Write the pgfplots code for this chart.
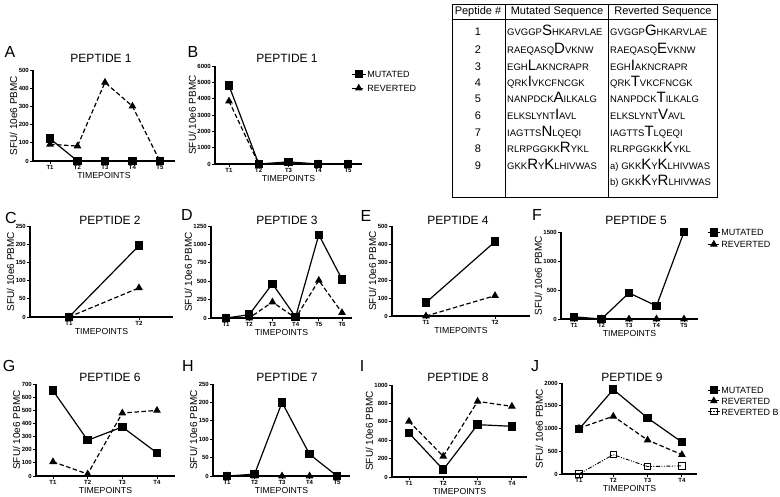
\documentclass[border=0pt]{standalone}
\usepackage{fontspec}
\setmainfont{Liberation Sans}
\usepackage{pgfplots}
\pgfplotsset{compat=1.18}

% table fonts: small letters with one or two big residues
\newcommand{\seqsm}{\fontsize{9.5}{10}\selectfont}
\newcommand{\seqlg}{\fontsize{15}{15}\selectfont}
\newcommand{\seq}[3]{{\seqsm #1}{\seqlg #2}{\seqsm #3}}

\pgfplotsset{
  panel/.style={
    scale only axis, clip=false, anchor=south west,
    axis x line*=bottom, axis y line*=left,
    axis line style={line width=1.2pt,-},
    tick style={black, line width=0.9pt},
    major tick length=3pt, tick align=outside,
    ymin=0,
    xlabel={TIMEPOINTS}, ylabel={SFU/ 10e6 PBMC},
    xlabel style={font=\fontsize{8.7}{9}\selectfont, text depth=0pt, yshift=1.5pt},
    ylabel style={font=\fontsize{10}{11}\selectfont, yshift=-3pt},
    ticklabel style={font=\fontsize{6}{6}\selectfont\bfseries, inner sep=1pt},
    /pgf/number format/assume math mode=true,
    /pgf/number format/1000 sep={},
    legend cell align=left,
    legend style={draw=none, fill=none, inner sep=0pt, font=\fontsize{9}{9}\selectfont,
      nodes={inner sep=1pt, text height=7pt, text depth=0pt}, anchor=north west},
    legend image code/.code={\draw[mark repeat=2,mark phase=2,##1] plot coordinates {(0pt,0pt)(7pt,0pt)(14pt,0pt)};},
  },
  mut/.style={black, line width=1.2pt, mark=square*, mark size=3.6pt, mark options={solid}},
  rev/.style={black, line width=1.2pt, dash pattern=on 4.5pt off 2.5pt, mark=triangle*, mark size=3.3pt, mark options={solid}},
  revb/.style={black, line width=0.9pt, dash pattern=on 4pt off 1.5pt on 1pt off 1.5pt on 1pt off 1.5pt, mark=square, mark size=3.2pt, mark options={solid, fill=white}},
}

\begin{document}
\begin{tikzpicture}
\path[use as bounding box] (0pt,0pt) rectangle (780pt,-496pt);

% ---- A
\begin{axis}[panel, at={(33pt,-161pt)}, width=142pt, height=91pt,
  xmin=0.38, xmax=5.55, ymax=500, ytick={0,100,...,500},
  xtick={1,...,5}, xticklabels={T1,T2,T3,T4,T5}]
\addplot[mut] coordinates {(1,123)(2,0)(3,0)(4,0)(5,0)};
\addplot[rev] coordinates {(1,92)(2,82)(3,432)(4,301)(5,0)};
\end{axis}

% ---- B
\begin{axis}[panel, at={(215pt,-164pt)}, width=147pt, height=98pt,
  xmin=0.53, xmax=5.47, ymax=6000, ytick={0,1000,...,6000},
  xtick={1,...,5}, xticklabels={T1,T2,T3,T4,T5},
  legend style={at={(0.925,0.964)}, row sep=5pt}]
\addplot[mut] coordinates {(1,4800)(2,0)(3,130)(4,0)(5,0)};
\addplot[rev] coordinates {(1,3850)(2,0)(3,60)(4,0)(5,0)};
\legend{MUTATED,REVERTED}
\end{axis}

% ---- C
\begin{axis}[panel, at={(30pt,-317pt)}, width=143pt, height=91pt,
  xmin=0.443, xmax=2.486, ymax=250, ytick={0,50,...,250},
  xtick={1,2}, xticklabels={T1,T2}]
\addplot[mut] coordinates {(1,0)(2,196)};
\addplot[rev] coordinates {(1,0)(2,80)};
\end{axis}

% ---- D
\begin{axis}[panel, at={(211pt,-318pt)}, width=141pt, height=92pt,
  xmin=0.353, xmax=6.43, ymax=1250, ytick={0,250,...,1250},
  xtick={1,...,6}, xticklabels={T1,T2,T3,T4,T5,T6}]
\addplot[mut] coordinates {(1,0)(2,45)(3,466)(4,14)(5,1131)(6,525)};
\addplot[rev] coordinates {(1,0)(2,0)(3,217)(4,0)(5,511)(6,72)};
\end{axis}

% ---- E
\begin{axis}[panel, at={(392pt,-316pt)}, width=138pt, height=90pt,
  xmin=0.507, xmax=2.507, ymax=500, ytick={0,100,...,500},
  xtick={1,2}, xticklabels={T1,T2}]
\addplot[mut] coordinates {(1,75)(2,413)};
\addplot[rev] coordinates {(1,0)(2,113)};
\end{axis}

% ---- F
\begin{axis}[panel, at={(561pt,-319pt)}, width=137pt, height=87pt,
  xmin=0.527, xmax=5.51, ymax=1500, ytick={0,500,1000,1500},
  xtick={1,...,5}, xticklabels={T1,T2,T3,T4,T5},
  legend image code/.code={\draw[mark repeat=2,mark phase=2,#1] plot coordinates {(0pt,0pt)(6pt,0pt)(12pt,0pt)};},
  legend style={at={(1.066,1.05)}, row sep=3pt}]
\addplot[mut] coordinates {(1,38)(2,0)(3,450)(4,225)(5,1500)};
\addplot[rev] coordinates {(1,0)(2,0)(3,0)(4,0)(5,0)};
\legend{MUTATED,REVERTED}
\end{axis}

% ---- G
\begin{axis}[panel, at={(36pt,-476pt)}, width=139pt, height=92pt,
  xmin=0.51, xmax=4.52, ymax=700, ytick={0,100,...,700},
  xtick={1,...,4}, xticklabels={T1,T2,T3,T4}]
\addplot[mut] coordinates {(1,650)(2,272)(3,373)(4,176)};
\addplot[rev] coordinates {(1,108)(2,15)(3,479)(4,499)};
\end{axis}

% ---- H
\begin{axis}[panel, at={(213pt,-476pt)}, width=137pt, height=92pt,
  xmin=0.49, xmax=5.47, ymax=250, ytick={0,50,...,250},
  xtick={1,...,5}, xticklabels={T1,T2,T3,T4,T5}]
\addplot[mut] coordinates {(1,0)(2,5)(3,200)(4,59)(5,0)};
\addplot[rev] coordinates {(1,0)(2,0)(3,0)(4,0)(5,0)};
\end{axis}

% ---- I
\begin{axis}[panel, at={(392pt,-477pt)}, width=135pt, height=92pt,
  xmin=0.505, xmax=4.44, ymax=1000, ytick={0,200,...,1000},
  xtick={1,...,4}, xticklabels={T1,T2,T3,T4}]
\addplot[mut] coordinates {(1,478)(2,80)(3,569)(4,551)};
\addplot[rev] coordinates {(1,605)(2,225)(3,822)(4,768)};
\end{axis}

% ---- J
\begin{axis}[panel, at={(562pt,-474pt)}, width=135pt, height=91pt,
  xmin=0.505, xmax=4.44, ymax=2000, ytick={0,500,...,2000},
  xtick={1,...,4}, xticklabels={T1,T2,T3,T4},
  legend image code/.code={\draw[mark repeat=2,mark phase=2,#1] plot coordinates {(0pt,0pt)(6pt,0pt)(12pt,0pt)};},
  legend style={at={(1.074,0.973)}, row sep=1.7pt}]
\addplot[mut] coordinates {(1,985)(2,1858)(3,1231)(4,701)};
\addplot[rev] coordinates {(1,1007)(2,1269)(3,746)(4,425)};
\addplot[revb] coordinates {(1,0)(2,425)(3,164)(4,179)};
\legend{MUTATED,REVERTED,REVERTED B}
\end{axis}

% ---- titles and panel letters
\begin{scope}[every node/.style={font=\fontsize{12}{12}\selectfont}]
\node at (101pt,-58pt) {PEPTIDE 1};
\node at (287pt,-58pt) {PEPTIDE 1};
\node at (110pt,-220pt) {PEPTIDE 2};
\node at (287pt,-220pt) {PEPTIDE 3};
\node at (458pt,-220pt) {PEPTIDE 4};
\node at (636pt,-220pt) {PEPTIDE 5};
\node at (110pt,-377pt) {PEPTIDE 6};
\node at (287pt,-377pt) {PEPTIDE 7};
\node at (458pt,-377pt) {PEPTIDE 8};
\node at (632pt,-377pt) {PEPTIDE 9};
\end{scope}
\begin{scope}[every node/.style={font=\fontsize{16}{16}\selectfont}]
\node at (10pt,-52pt) {A};
\node at (193pt,-52pt) {B};
\node at (11pt,-218pt) {C};
\node at (187pt,-215pt) {D};
\node at (366pt,-216pt) {E};
\node at (537pt,-215pt) {F};
\node at (9pt,-366pt) {G};
\node at (188pt,-366pt) {H};
\node at (362pt,-366pt) {I};
\node at (535pt,-366pt) {J};
\end{scope}

% ---- peptide table
\draw[line width=0.8pt] (452pt,-4pt) rectangle (717pt,-197pt);
\draw[line width=0.8pt] (452pt,-19pt) -- (717pt,-19pt);
\draw[line width=0.8pt] (505pt,-4pt) -- (505pt,-197pt);
\draw[line width=0.8pt] (608pt,-4pt) -- (608pt,-197pt);
\begin{scope}[every node/.style={font=\fontsize{11}{11}\selectfont, inner sep=0pt}]
\node at (478pt,-12pt) {Peptide \#};
\node at (557pt,-12pt) {Mutated Sequence};
\node at (663pt,-12pt) {Reverted Sequence};
\foreach \n/\y in {1/32,2/50,3/67,4/83,5/99,6/116,7/133,8/149,9/166}
  \node at (478pt,-\y pt) {\n};
\end{scope}
\begin{scope}[every node/.style={anchor=base west, inner sep=0pt}]
\node at (507pt,-35.5pt) {\seq{GVGGP}{S}{HKARVLAE}};
\node at (507pt,-53.5pt) {\seq{RAEQASQ}{D}{VKNW}};
\node at (507pt,-70.5pt) {\seq{EGH}{L}{AKNCRAPR}};
\node at (507pt,-86.5pt) {\seq{QRK}{I}{VKCFNCGK}};
\node at (507pt,-102.5pt) {\seq{NANPDCK}{A}{ILKALG}};
\node at (507pt,-119.5pt) {\seq{ELKSLYNT}{I}{AVL}};
\node at (507pt,-136.5pt) {\seq{IAGTTS}{N}{LQEQI}};
\node at (507pt,-152.5pt) {\seq{RLRPGGKK}{R}{YKL}};
\node at (507pt,-169.5pt) {\seq{GKK}{R}{\seq{Y}{K}{LHIVWAS}}};
\node at (610pt,-35.5pt) {\seq{GVGGP}{G}{HKARVLAE}};
\node at (610pt,-53.5pt) {\seq{RAEQASQ}{E}{VKNW}};
\node at (610pt,-70.5pt) {\seq{EGH}{I}{AKNCRAPR}};
\node at (610pt,-86.5pt) {\seq{QRK}{T}{VKCFNCGK}};
\node at (610pt,-102.5pt) {\seq{NANPDCK}{T}{ILKALG}};
\node at (610pt,-119.5pt) {\seq{ELKSLYNT}{V}{AVL}};
\node at (610pt,-136.5pt) {\seq{IAGTTS}{T}{LQEQI}};
\node at (610pt,-152.5pt) {\seq{RLRPGGKK}{K}{YKL}};
\node at (610pt,-169.5pt) {\seq{a) GKK}{K}{\seq{Y}{K}{LHIVWAS}}};
\node at (610pt,-185.5pt) {\seq{b) GKK}{K}{\seq{Y}{R}{LHIVWAS}}};
\end{scope}
\end{tikzpicture}
\end{document}
